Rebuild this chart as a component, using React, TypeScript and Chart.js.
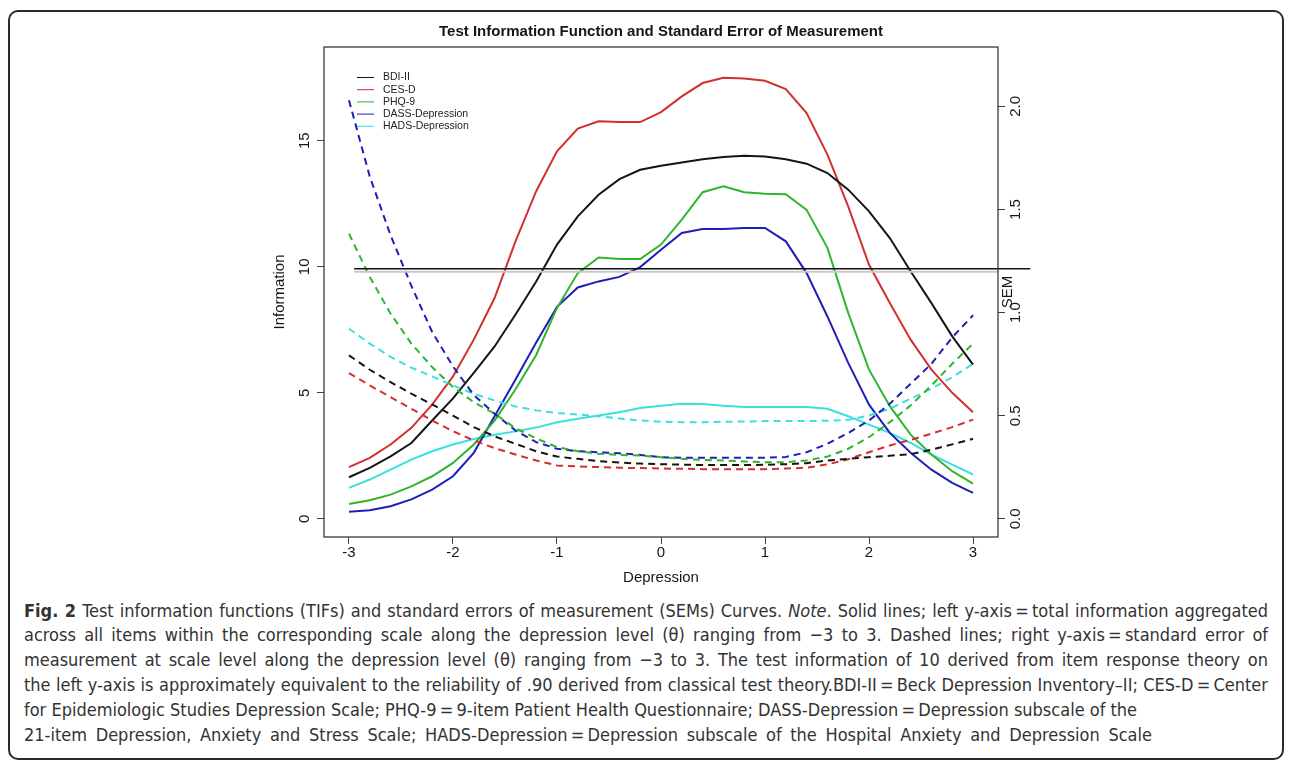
import React, { useEffect, useRef } from "react";
import { Chart, registerables } from "chart.js";

Chart.register(...registerables);

// ---------- data ----------
const theta = [-3, -2.8, -2.6, -2.4, -2.2, -2, -1.8, -1.6, -1.4, -1.2, -1, -0.8, -0.6, -0.4, -0.2, 0, 0.2, 0.4, 0.6, 0.8, 1, 1.2, 1.4, 1.6, 1.8, 2, 2.2, 2.4, 2.6, 2.8, 3];

const scaleNames = ["BDI-II", "CES-D", "PHQ-9", "DASS-Depression", "HADS-Depression"];
const scaleColors = ["#151515", "#d22f2f", "#2fb52f", "#1f1fb5", "#38e0e0"];

// Test information (left axis, solid)
const bdiInfo = [1.65, 2.02, 2.48, 3.01, 3.9, 4.78, 5.79, 6.84, 8.1, 9.42, 10.88, 12.0, 12.86, 13.48, 13.85, 14.01, 14.14, 14.27, 14.36, 14.41, 14.38, 14.27, 14.09, 13.72, 13.06, 12.2, 11.14, 9.82, 8.56, 7.24, 6.12];
const cesInfo = [2.05, 2.42, 2.95, 3.61, 4.53, 5.65, 7.11, 8.76, 11.0, 13.0, 14.58, 15.48, 15.77, 15.74, 15.74, 16.14, 16.76, 17.29, 17.5, 17.47, 17.38, 17.05, 16.1, 14.45, 12.4, 10.08, 8.56, 7.11, 5.92, 5.0, 4.23];
const phqInfo = [0.59, 0.74, 0.96, 1.29, 1.69, 2.22, 2.95, 3.9, 5.13, 6.5, 8.37, 9.75, 10.37, 10.31, 10.31, 10.88, 11.87, 12.96, 13.19, 12.96, 12.9, 12.88, 12.26, 10.75, 8.17, 5.92, 4.47, 3.34, 2.55, 1.89, 1.4];
const dassInfo = [0.28, 0.34, 0.5, 0.77, 1.16, 1.69, 2.62, 4.07, 5.52, 7.0, 8.41, 9.18, 9.42, 9.6, 9.99, 10.68, 11.34, 11.5, 11.5, 11.54, 11.54, 11.01, 9.75, 8.03, 6.19, 4.53, 3.41, 2.62, 1.95, 1.43, 1.03];
const hadsInfo = [1.23, 1.56, 1.95, 2.35, 2.68, 2.95, 3.17, 3.34, 3.47, 3.62, 3.83, 3.97, 4.1, 4.23, 4.4, 4.49, 4.57, 4.56, 4.49, 4.44, 4.44, 4.44, 4.44, 4.37, 4.07, 3.74, 3.41, 3.01, 2.55, 2.15, 1.76];

// Standard error of measurement (right axis, dashed)
const bdiSem = [0.793, 0.723, 0.663, 0.607, 0.555, 0.501, 0.445, 0.4, 0.364, 0.328, 0.302, 0.291, 0.28, 0.273, 0.268, 0.265, 0.263, 0.261, 0.261, 0.261, 0.262, 0.265, 0.27, 0.283, 0.291, 0.299, 0.306, 0.314, 0.335, 0.361, 0.388];
const cesSem = [0.707, 0.647, 0.59, 0.534, 0.477, 0.425, 0.38, 0.343, 0.312, 0.283, 0.259, 0.254, 0.251, 0.248, 0.246, 0.244, 0.243, 0.241, 0.241, 0.241, 0.241, 0.244, 0.248, 0.264, 0.289, 0.323, 0.356, 0.383, 0.413, 0.445, 0.481];
const phqSem = [1.383, 1.173, 0.995, 0.85, 0.736, 0.639, 0.566, 0.51, 0.44, 0.39, 0.348, 0.328, 0.316, 0.31, 0.307, 0.299, 0.291, 0.286, 0.283, 0.278, 0.275, 0.275, 0.283, 0.302, 0.34, 0.396, 0.469, 0.55, 0.647, 0.752, 0.85];
const dassSem = [2.03, 1.66, 1.375, 1.13, 0.906, 0.739, 0.6, 0.51, 0.429, 0.372, 0.34, 0.328, 0.323, 0.318, 0.31, 0.299, 0.296, 0.296, 0.296, 0.296, 0.296, 0.3, 0.323, 0.364, 0.416, 0.477, 0.558, 0.655, 0.752, 0.88, 0.987];
const hadsSem = [0.922, 0.85, 0.785, 0.733, 0.691, 0.647, 0.607, 0.574, 0.545, 0.526, 0.513, 0.506, 0.497, 0.487, 0.477, 0.471, 0.469, 0.469, 0.471, 0.472, 0.474, 0.474, 0.474, 0.476, 0.48, 0.501, 0.534, 0.583, 0.631, 0.687, 0.752];

const infoSeries = [bdiInfo, cesInfo, phqInfo, dassInfo, hadsInfo];
const semSeries = [bdiSem, cesSem, phqSem, dassSem, hadsSem];

// reference lines (information ≈ 10)
const cutoffInfo = 9.92;
const cutoffInfoShadow = 9.8;

const xTicks = [-3, -2, -1, 0, 1, 2, 3];
const xTickLabels = ["-3", "-2", "-1", "0", "1", "2", "3"];
const infoTicks = [0, 5, 10, 15];
const infoTickLabels = ["0", "5", "10", "15"];
const semTicks = [0, 0.5, 1, 1.5, 2];
const semTickLabels = ["0.0", "0.5", "1.0", "1.5", "2.0"];

const chartTitle = "Test Information Function and Standard Error of Measurement";
const xTitle = "Depression";
const yTitle = "Information";
const y2Title = "SEM";

const captionLines: { parts: { t: string; s?: "b" | "i" }[]; w: number }[] = [
  {
    parts: [
      { t: "Fig. 2", s: "b" },
      { t: " Test information functions (TIFs) and standard errors of measurement (SEMs) Curves. " },
      { t: "Note", s: "i" },
      { t: ". Solid lines; left y-axis\u2009=\u2009total information aggregated" },
    ],
    w: 1244,
  },
  { parts: [{ t: "across all items within the corresponding scale along the depression level (\u03B8) ranging from \u22123 to 3. Dashed lines; right y-axis\u2009=\u2009standard error of" }], w: 1244 },
  { parts: [{ t: "measurement at scale level along the depression level (\u03B8) ranging from \u22123 to 3. The test information of 10 derived from item response theory on" }], w: 1244 },
  { parts: [{ t: "the left y-axis is approximately equivalent to the reliability of .90 derived from classical test theory.BDI-II\u2009=\u2009Beck Depression Inventory\u2013II; CES-D\u2009=\u2009Center" }], w: 1244 },
  { parts: [{ t: "for Epidemiologic Studies Depression Scale; PHQ-9\u2009=\u20099-item Patient Health Questionnaire; DASS-Depression\u2009=\u2009Depression subscale of the" }], w: 1111 },
  { parts: [{ t: "21-item Depression, Anxiety and Stress Scale; HADS-Depression\u2009=\u2009Depression subscale of the Hospital Anxiety and Depression Scale" }], w: 1128 },
];

const FONT = '"Liberation Sans", Arial, Helvetica, sans-serif';

const overlayPlugin = {
  id: "overlay",
  afterDraw(chart: any) {
    const { ctx, chartArea: ca, scales } = chart;
    ctx.save();
    // plot box
    ctx.strokeStyle = "#3a3a3a";
    ctx.lineWidth = 1.3;
    ctx.strokeRect(ca.left, ca.top, ca.right - ca.left, ca.bottom - ca.top);

    ctx.fillStyle = "#161616";
    ctx.textAlign = "center";
    ctx.textBaseline = "middle";

    // title
    ctx.font = `bold 15px ${FONT}`;
    ctx.fillText(chartTitle, (ca.left + ca.right) / 2, ca.top - 15);

    // x tick labels
    ctx.font = `15px ${FONT}`;
    xTicks.forEach((v, i) => {
      ctx.fillText(xTickLabels[i], scales.x.getPixelForValue(v), ca.bottom + 16);
    });
    ctx.fillText(xTitle, (ca.left + ca.right) / 2, ca.bottom + 41);

    // left tick labels (rotated)
    infoTicks.forEach((v, i) => {
      ctx.save();
      ctx.translate(ca.left - 19, scales.y.getPixelForValue(v));
      ctx.rotate(-Math.PI / 2);
      ctx.fillText(infoTickLabels[i], 0, 0);
      ctx.restore();
    });
    ctx.save();
    ctx.translate(ca.left - 44, (ca.top + ca.bottom) / 2);
    ctx.rotate(-Math.PI / 2);
    ctx.fillText(yTitle, 0, 0);
    ctx.restore();

    // right tick labels (rotated)
    semTicks.forEach((v, i) => {
      ctx.save();
      ctx.translate(ca.right + 18, scales.y2.getPixelForValue(v));
      ctx.rotate(-Math.PI / 2);
      ctx.fillText(semTickLabels[i], 0, 0);
      ctx.restore();
    });
    ctx.save();
    ctx.translate(ca.right + 10, (ca.top + ca.bottom) / 2);
    ctx.rotate(-Math.PI / 2);
    ctx.fillText(y2Title, 0, 0);
    ctx.restore();

    // legend
    ctx.font = `10.5px ${FONT}`;
    ctx.textAlign = "left";
    scaleNames.forEach((name, i) => {
      const y = ca.top + 30.5 + i * 12.2;
      ctx.strokeStyle = scaleColors[i];
      ctx.lineWidth = 1;
      ctx.beginPath();
      ctx.moveTo(ca.left + 33, y);
      ctx.lineTo(ca.left + 50, y);
      ctx.stroke();
      ctx.fillStyle = "#222";
      ctx.fillText(name, ca.left + 59, y);
    });
    ctx.restore();
  },
};

function ChartCanvas() {
  const ref = useRef<HTMLCanvasElement | null>(null);
  useEffect(() => {
    if (!ref.current) return;
    const pts = (arr: number[]) => theta.map((t, i) => ({ x: t, y: arr[i] }));
    const datasets: any[] = [];
    datasets.push({
      label: "cutoff-shadow",
      data: [
        { x: -2.95, y: cutoffInfoShadow },
        { x: 3.24, y: cutoffInfoShadow },
      ],
      borderColor: "#c8c8c8",
      borderWidth: 2,
      pointRadius: 0,
      yAxisID: "y",
    });
    datasets.push({
      label: "cutoff",
      data: [
        { x: -2.95, y: cutoffInfo },
        { x: 3.55, y: cutoffInfo },
      ],
      borderColor: "#111",
      borderWidth: 1.6,
      pointRadius: 0,
      yAxisID: "y",
      clip: false,
    });
    scaleNames.forEach((name, i) => {
      datasets.push({
        label: name + " SEM",
        data: pts(semSeries[i]),
        borderColor: scaleColors[i],
        borderWidth: 2,
        borderDash: [7, 5],
        pointRadius: 0,
        tension: 0,
        yAxisID: "y2",
      });
    });
    scaleNames.forEach((name, i) => {
      datasets.push({
        label: name,
        data: pts(infoSeries[i]),
        borderColor: scaleColors[i],
        borderWidth: 2,
        pointRadius: 0,
        tension: 0,
        yAxisID: "y",
      });
    });

    const tickGrid = { drawOnChartArea: false, drawTicks: true, tickLength: 7, color: "#444", lineWidth: 1 };

    const chart = new Chart(ref.current, {
      type: "line",
      data: { datasets },
      options: {
        responsive: false,
        animation: false,
        events: [],
        layout: { padding: { left: 276, right: 246, top: 39, bottom: 21 } },
        plugins: { legend: { display: false }, tooltip: { enabled: false }, title: { display: false } },
        scales: {
          x: {
            type: "linear",
            min: -3.24,
            max: 3.24,
            grid: tickGrid,
            border: { display: false },
            ticks: { display: false },
            afterBuildTicks: (s: any) => {
              s.ticks = xTicks.map((v) => ({ value: v }));
            },
            afterFit: (s: any) => {
              s.height = 40;
            },
          },
          y: {
            type: "linear",
            position: "left",
            min: -0.72,
            max: 18.72,
            grid: tickGrid,
            border: { display: false },
            ticks: { display: false },
            afterBuildTicks: (s: any) => {
              s.ticks = infoTicks.map((v) => ({ value: v }));
            },
            afterFit: (s: any) => {
              s.width = 40;
            },
          },
          y2: {
            type: "linear",
            position: "right",
            min: -0.088,
            max: 2.288,
            grid: tickGrid,
            border: { display: false },
            ticks: { display: false },
            afterBuildTicks: (s: any) => {
              s.ticks = semTicks.map((v) => ({ value: v }));
            },
            afterFit: (s: any) => {
              s.width = 40;
            },
          },
        },
      } as any,
      plugins: [overlayPlugin],
    });
    return () => chart.destroy();
  }, []);
  return <canvas ref={ref} width={1276} height={590} style={{ display: "block", width: 1276, height: 590 }} />;
}

export default function App() {
  return (
    <div style={{ position: "relative", width: 1276, height: 752, fontFamily: FONT }}>
      <div
        style={{
          position: "absolute",
          left: 0,
          top: 2,
          width: 1276,
          height: 750,
          border: "2px solid #2a2a2a",
          borderRadius: 10,
          boxSizing: "border-box",
        }}
      />
      <div style={{ position: "absolute", left: 0, top: 0 }}>
        <ChartCanvas />
      </div>
      {captionLines.map((ln, i) => (
        <div
          key={i}
          style={{
            position: "absolute",
            left: 16,
            top: 590.6 + i * 24.8,
            width: ln.w,
            height: 24.8,
            lineHeight: "24.8px",
            fontSize: 18,
            color: "#333",
            whiteSpace: "nowrap",
            textAlign: "justify",
            textAlignLast: "justify",
            fontFamily: '"Liberation Sans Narrow", "DejaVu Sans Condensed", "Roboto Condensed", sans-serif',
          }}
        >
          {ln.parts.map((p, j) =>
            p.s === "b" ? (
              <b key={j}>{p.t}</b>
            ) : p.s === "i" ? (
              <i key={j}>{p.t}</i>
            ) : (
              <span key={j}>{p.t}</span>
            )
          )}
        </div>
      ))}
    </div>
  );
}
